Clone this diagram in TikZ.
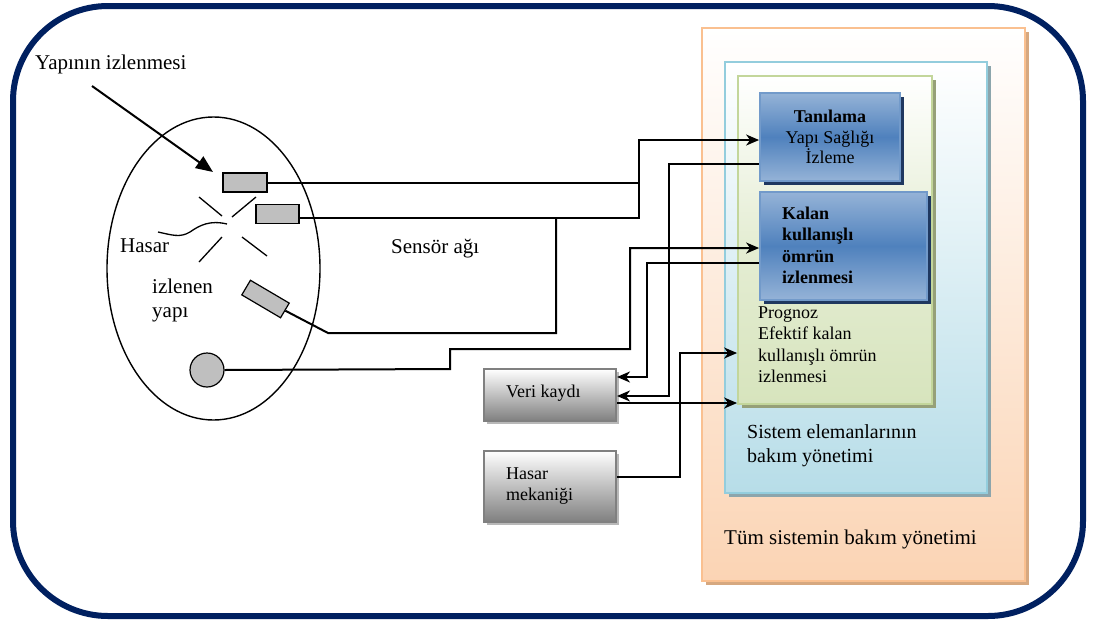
\documentclass[tikz,border=0pt]{standalone}
\usepackage{fontspec}
\setmainfont{Liberation Serif}
\usetikzlibrary{arrows.meta,calc,shadows,shapes.geometric}
\definecolor{navy}{RGB}{0,32,96}
\definecolor{orbord}{RGB}{250,192,144}
\definecolor{orfill}{RGB}{251,212,180}
\definecolor{orshad}{RGB}{214,168,128}
\definecolor{blbord}{RGB}{147,205,221}
\definecolor{blfill}{RGB}{183,221,232}
\definecolor{blshad}{RGB}{140,165,172}
\definecolor{grbord}{RGB}{195,214,155}
\definecolor{grfill}{RGB}{215,228,189}
\definecolor{grshad}{RGB}{150,160,120}
\definecolor{bxlight}{RGB}{149,179,215}
\definecolor{bxmid}{RGB}{79,129,189}
\definecolor{bxshad}{RGB}{31,56,96}
\definecolor{sensgray}{RGB}{191,191,191}
\tikzset{
  conn/.style={line width=2pt, black},
  arr/.style={conn, -{Stealth[length=13pt,width=11pt,inset=4pt]}},
  sensor/.style={draw, line width=1.2pt, fill=sensgray, inner sep=0pt},
  panel/.style={draw, line width=1.8pt, inner sep=0pt},
  bluebox/.style={panel, draw=bxmid!80!white, top color=bxlight, bottom color=bxlight, middle color=bxmid,
     drop shadow={shadow xshift=4pt, shadow yshift=-4pt, fill=bxshad, opacity=1}},
  graybox/.style={draw=gray, line width=2pt, inner sep=0pt, top color=white, bottom color=black!50,
     drop shadow={shadow xshift=3pt, shadow yshift=-3pt, fill=black!28, opacity=1}},
  big/.style={font=\fontsize{21}{24}\selectfont, inner sep=0pt},
  mid/.style={font=\fontsize{20}{24}\selectfont, inner sep=0pt},
  small/.style={font=\fontsize{18}{21.5}\selectfont, inner sep=0pt},
  smallb/.style={font=\fontsize{18}{21.5}\selectfont\bfseries, inner sep=0pt},
}
\begin{document}
\begin{tikzpicture}[x=1pt,y=-1pt]
\useasboundingbox (0,0) rectangle (1097,624);
% outer frame
\node[draw=navy, line width=6pt, rounded corners=95pt, minimum width=1070pt, minimum height=610pt, inner sep=0pt] (frame) at (548,311) {};

% right side nested panels
\node[panel, draw=orbord, top color=white, bottom color=orfill, minimum width=323pt, minimum height=553pt,
  drop shadow={shadow xshift=4pt, shadow yshift=-4pt, fill=orshad, opacity=1}] (orange) at (863.5,304.5) {};
\node[panel, draw=blbord, top color=white, bottom color=blfill, minimum width=262pt, minimum height=431pt,
  drop shadow={shadow xshift=4pt, shadow yshift=-4pt, fill=blshad, opacity=1}] (blue) at (856,277.5) {};
\node[panel, draw=grbord, top color=white, bottom color=grfill, middle color=grfill!65!white, minimum width=194pt, minimum height=328pt,
  drop shadow={shadow xshift=4pt, shadow yshift=-4pt, fill=grshad, opacity=1}] (green) at (835,240) {};
\node[bluebox, minimum width=140pt, minimum height=88pt] (tan) at (830,137) {};
\node[bluebox, minimum width=167pt, minimum height=108pt] (kal) at (843.5,246) {};

\node[smallb, anchor=base] (tant) at (830,122) {Tanılama};
\node[small, anchor=base] (tant2) at (830,143) {Yapı Sağlığı};
\node[small, anchor=base] (tant3) at (830,163) {İzleme};
\node[smallb, anchor=base west, align=left] (kalt) at (782,283.5) {Kalan\\kullanışlı\\ömrün\\izlenmesi};
\node[small, anchor=base west, align=left] (prog) at (758,382.5) {Prognoz\\Efektif kalan\\kullanışlı ömrün\\izlenmesi};
\node[mid, anchor=base west, align=left] (sist) at (747,462.5) {Sistem elemanlarının\\bakım yönetimi};
\node[big, anchor=base west] (tum) at (724,544) {Tüm sistemin bakım yönetimi};

% gray boxes
\node[graybox, minimum width=132pt, minimum height=52pt] (veri) at (550,395) {};
\node[small, anchor=base west] (verit) at (506,397) {Veri kaydı};
\node[graybox, minimum width=132pt, minimum height=71pt] (hm) at (550,486.5) {};
\node[small, anchor=base west, align=left] (hmt) at (506,500.5) {Hasar\\mekaniği};

% monitored structure
\node[draw, ellipse, line width=1.4pt, minimum width=213pt, minimum height=303pt, inner sep=0pt] (struct) at (213.5,268.5) {};
\node[sensor, minimum width=44pt, minimum height=19pt] (s1) at (245,182.5) {};
\node[sensor, minimum width=43pt, minimum height=19pt] (s2) at (277.5,214) {};
\node[sensor, minimum width=45pt, minimum height=17pt, rotate=-30.5] (s3) at (265.5,299) {};
\node[sensor, circle, minimum size=34pt] (c) at (207,370) {};

% damage symbol
\draw[line width=1.3pt] (199,197) -- (222,216);
\draw[line width=1.3pt] (232,217) -- (256,197);
\draw[line width=1.3pt] (199,262) -- (222,237);
\draw[line width=1.3pt] (242,237) -- (267,256);
\draw[line width=1.3pt] (158,232) .. controls (172,235) and (180,238) .. (190,232) .. controls (200,225) and (210,220) .. (227,224);

\node[big, anchor=base west] (hasar) at (120,252) {Hasar};
\node[big, anchor=base west, align=left] (izl) at (152,317) {izlenen\\yapı};
\node[big, anchor=base west] (sens) at (391,253) {Sensör ağı};
\node[big, anchor=base west] (yap) at (35,69) {Yapının izlenmesi};
\coordinate (yapstart) at (92,86);
\coordinate (yapend) at (213,172);
\draw[line width=2pt, -{Triangle[length=17pt,width=14pt]}] (yapstart) -- (yapend);

% connectors
\draw[conn] (s1.east) -- (639,182.5);
\draw[arr] ([yshift=-3.5pt]s2.east) -- (639,217.5) -- (639,140) -- (tan.west |- 0,140);
\draw[conn] (s3.east) -- (328,333) -- (556,333) -- (556,217.5);
\draw[arr] (c.east) -- (450,369) -- (450,349) -- (630,349) -- (630,248) -- (kal.west |- 0,248);
\draw[arr] (tan.west |- 0,164) -- (669,164) -- (669,396) -- (veri.east |- 0,396);
\draw[arr] (kal.west |- 0,263) -- (647,263) -- (647,377) -- (veri.east |- 0,377);
\draw[arr] (veri.east |- 0,403) -- (green.west |- 0,403);
\draw[arr] (hm.east |- 0,477) -- (680,477) -- (680,353) -- (green.west |- 0,353);
\end{tikzpicture}
\end{document}
